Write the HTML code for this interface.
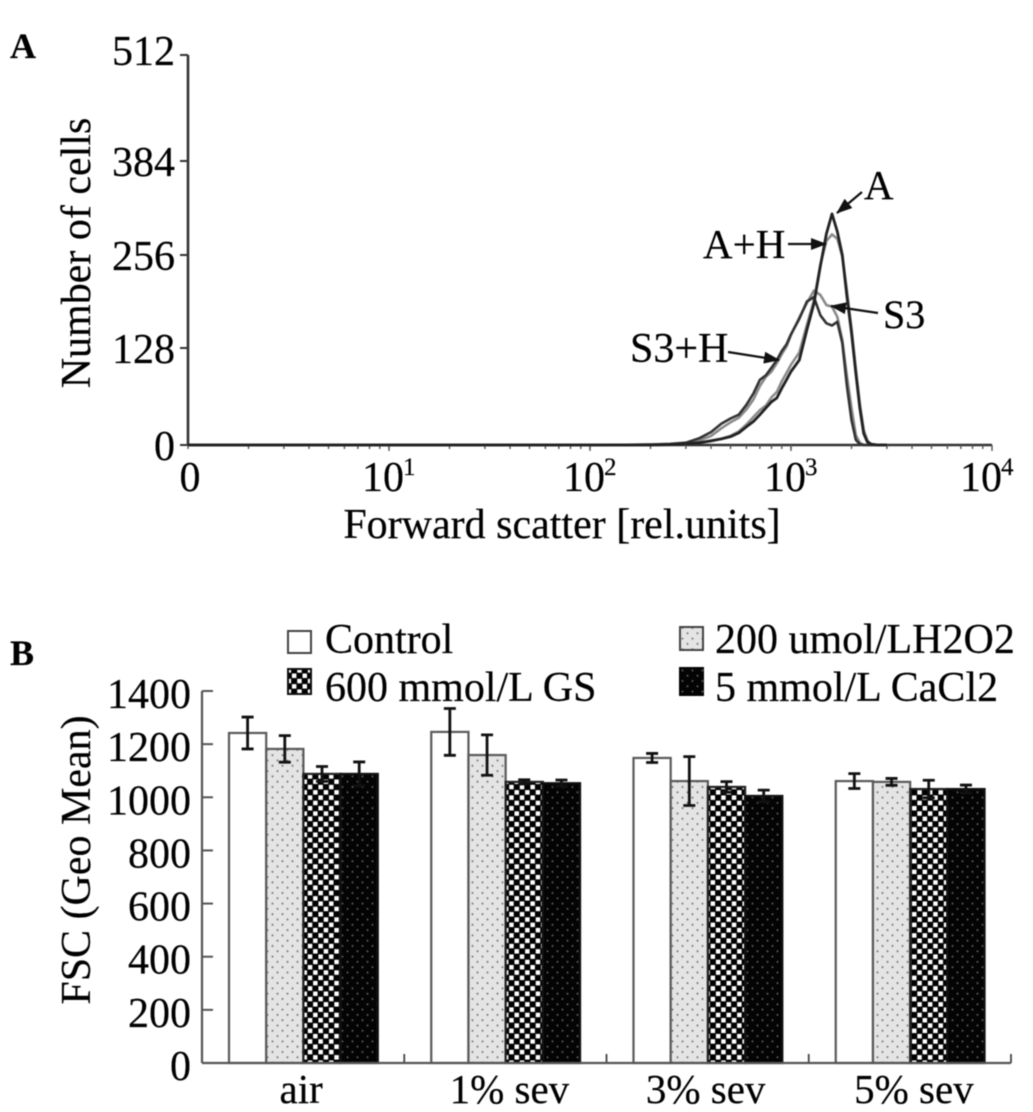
<!DOCTYPE html>
<html lang="en">
<head>
<meta charset="utf-8">
<title>Forward scatter histogram and FSC bar chart</title>
<style>
  html, body { margin: 0; padding: 0; background: #fff; }
  svg { display: block; filter: blur(0.4px); }
  text { font-family: "Liberation Serif", "Times New Roman", serif; fill: #000; stroke: #000; stroke-width: 0.2px; }
</style>
</head>
<body>
<svg id="figure" xmlns="http://www.w3.org/2000/svg" width="1033" height="1112" viewBox="0 0 1033 1112">
  <defs>
    <pattern id="dots-light" patternUnits="userSpaceOnUse" width="10" height="10.6">
      <rect width="10" height="10.6" fill="#e4e4e4"/>
      <circle cx="2.5" cy="2.6" r="1" fill="#777"/>
      <circle cx="7.5" cy="7.9" r="1" fill="#777"/>
    </pattern>
    <pattern id="checker" patternUnits="userSpaceOnUse" width="10.6" height="10.6">
      <rect width="10.6" height="10.6" fill="#000"/>
      <rect x="0.4" y="0.4" width="4.5" height="4.5" fill="#fff"/>
      <rect x="5.7" y="5.7" width="4.5" height="4.5" fill="#fff"/>
    </pattern>
    <pattern id="dots-dark" patternUnits="userSpaceOnUse" width="10" height="10.6">
      <rect width="10" height="10.6" fill="#040404"/>
      <circle cx="2.5" cy="2.6" r="1" fill="#5c5c5c"/>
      <circle cx="7.5" cy="7.9" r="1" fill="#5c5c5c"/>
    </pattern>
    <marker id="arrowhead" markerUnits="userSpaceOnUse" markerWidth="16" markerHeight="12" refX="15" refY="6" orient="auto">
      <path d="M0,0 L16,6 L0,12 Z" fill="#111"/>
    </marker>
  </defs>

  <text x="10" y="58" font-size="36" font-weight="bold">A</text>
  <text x="10" y="665" font-size="36" font-weight="bold">B</text>

  <g id="panel-a"></g>
  <text transform="translate(90,253) rotate(-90)" text-anchor="middle" font-size="42">Number of cells</text>
  <text x="562" y="538" text-anchor="middle" font-size="42">Forward scatter [rel.units]</text>

  <line x1="862" y1="192" x2="837" y2="213" stroke="#111" stroke-width="2.2" marker-end="url(#arrowhead)"/>
  <line x1="788" y1="244" x2="826" y2="244" stroke="#111" stroke-width="2.2" marker-end="url(#arrowhead)"/>
  <line x1="878" y1="313" x2="831" y2="306" stroke="#111" stroke-width="2.2" marker-end="url(#arrowhead)"/>
  <line x1="728" y1="352" x2="779" y2="360" stroke="#111" stroke-width="2.2" marker-end="url(#arrowhead)"/>
  <text x="864" y="199" font-size="41">A</text>
  <text x="703" y="258" font-size="41">A+H</text>
  <text x="883" y="328" font-size="40">S3</text>
  <text x="630" y="362" font-size="42">S3+H</text>

  <g id="panel-b"></g>
  <text transform="translate(90,860) rotate(-90)" text-anchor="middle" font-size="42">FSC (Geo Mean)</text>

  <g>
    <rect x="288" y="631" width="23" height="22" fill="#fff" stroke="#444" stroke-width="2"/>
    <text x="325" y="653" font-size="42">Control</text>
    <rect x="288" y="669" width="23" height="25" fill="url(#checker)" stroke="#111" stroke-width="2"/>
    <text x="325" y="701" font-size="42">600 mmol/L GS</text>
    <rect x="680" y="627" width="23" height="23" fill="url(#dots-light)" stroke="#444" stroke-width="2"/>
    <text x="715" y="653" font-size="42">200 umol/LH2O2</text>
    <rect x="679" y="667" width="25" height="29" fill="url(#dots-dark)"/>
    <text x="715" y="701" font-size="42">5 mmol/L CaCl2</text>
  </g>
</svg>

<script>
// Panel A data
const fscValues = [1,10,100,150,200,250,300,350,400,450,500,550,600,650,700,750,800,850,900,950,1000,1100,1200,1300,1400,1500,1600,1700,1800,1900,2000,2100,2200,2300,2400,2500,2700,3000];
const countsA = [0,0,0,0,0,0.5,1.5,3,5.5,8,11,16,24,31,40,49,57,62,75,86,97,112,153,189,241,285,312,288,256,198,149,95,49,15,4,1,0,0];
const countsAH = [0,0,0,0,0,0.5,1.5,3,5,8,12,18,27,37,46,52,63,70,84,95,106,122,160,193,243,275,284,278,254,206,155,101,55,20,6,1,0,0];
const countsS3 = [0,0,0,0,0.5,1,2.5,6,12,22,30,36,47,60,78,90,97,108,120,130,146,170,190,207,201,187,185,171,139,90,49,13,3,0,0,0,0,0];
const countsS3H = [0,0,0,0.3,0.7,1.5,3,9,17,28,35,40,53,68,86,92,102,112,124,133,147,168,192,198,173,162,159,164,135,77,33,7,1,0,0,0,0,0];
const countTicks = [0,128,256,384,512];
const decadeTicks = [1,10,100,1000,10000];
const decadeLabels = ["0","10","10","10","10"];
const decadeExponents = ["","1","2","3","4"];

// Panel B data
const categories = ["air","1% sev","3% sev","5% sev"];
const controlValues = [1242,1246,1148,1061];
const h2o2Values = [1182,1159,1061,1058];
const gsValues = [1088,1058,1039,1031];
const cacl2Values = [1088,1053,1005,1031];
const controlErrors = [60,88,17,28];
const h2o2Errors = [50,76,92,13];
const gsErrors = [28,8,20,33];
const cacl2Errors = [45,12,22,15];
const fscTicks = [0,200,400,600,800,1000,1200,1400];

const NS = "http://www.w3.org/2000/svg";
function mk(parent, tag, attrs, text) {
  const el = document.createElementNS(NS, tag);
  for (const k in attrs) el.setAttribute(k, attrs[k]);
  if (text !== undefined) el.textContent = text;
  parent.appendChild(el);
  return el;
}

// Panel A axes
const xA = v => 188 + 201 * Math.log10(v);
const yKnotsPx = [445,348,255,161,55];
function yA(c) {
  const step = 128;
  const i = Math.min(Math.max(Math.floor(c / step), 0), 3);
  return yKnotsPx[i] + (yKnotsPx[i + 1] - yKnotsPx[i]) * (c - i * step) / step;
}
const panelA = document.getElementById("panel-a");

const axisStroke = "#333";
const yAxisA = mk(panelA, "line", {x1:xA(1), y1:yA(512), x2:xA(1), y2:yA(0), stroke:axisStroke, "stroke-width":2.6});


const xAxisA = mk(panelA, "line", {x1:xA(1), y1:yA(0), x2:xA(10000), y2:yA(0), stroke:axisStroke, "stroke-width":2.6});



countTicks.forEach((c, i) => {
  const t = mk(panelA, "line", {x1:180, y1:yA(c), x2:xA(1), y2:yA(c), stroke:axisStroke, "stroke-width":2});
  
  
  const lab = mk(panelA, "text", {x:175, y:yA(c) + (c === 512 ? 10 : 15), "text-anchor":"end", "font-size":42}, String(c));
  
  
});

for (let d = 0; d < 4; d++) {
  for (let m = 1; m <= 10; m++) {
    const v = m * Math.pow(10, d);
    const t = mk(panelA, "line", {x1:xA(v), y1:yA(0), x2:xA(v), y2:yA(0) + (m === 10 ? 6 : 4), stroke:"#555", "stroke-width":1.4});
    
    
  }
}

decadeTicks.forEach((v, i) => {
  const px = xA(v);
  const edgeShift = i === 4 ? -5 : 0;
  const lab = mk(panelA, "text", {x: i === 0 ? px + 2 : px - 27 + edgeShift, y:491, "text-anchor": i === 0 ? "middle" : "start", "font-size":42}, decadeLabels[i]);
  
  
  if (decadeExponents[i]) {
    const sup = mk(panelA, "text", {x:px + 14 + edgeShift, y:475, "font-size":25}, decadeExponents[i]);
    
    
  }
});

function curvePoints(counts) {
  return fscValues.map((v, i) => xA(v).toFixed(1) + "," + yA(counts[i]).toFixed(1)).join(" ");
}
const curveAH = mk(panelA, "polyline", {points:curvePoints(countsAH), fill:"none", stroke:"#8c8c8c", "stroke-width":2.6, "stroke-linejoin":"round"});


const curveS3 = mk(panelA, "polyline", {points:curvePoints(countsS3), fill:"none", stroke:"#8a8a8a", "stroke-width":2.6, "stroke-linejoin":"round"});


const curveS3H = mk(panelA, "polyline", {points:curvePoints(countsS3H), fill:"none", stroke:"#333", "stroke-width":2.6, "stroke-linejoin":"round"});


const curveA = mk(panelA, "polyline", {points:curvePoints(countsA), fill:"none", stroke:"#222", "stroke-width":2.8, "stroke-linejoin":"round"});



// Panel B axes
const y0B = 1063, pxPerUnitB = 372 / 1400;
const yB = v => y0B - v * pxPerUnitB;
const x0B = 202, bandB = 202.25, barOffset = 27, barW = 37.2;
const xB = (g, s) => x0B + g * bandB + barOffset + s * barW;
const panelB = document.getElementById("panel-b");

const seriesValues = [controlValues, h2o2Values, gsValues, cacl2Values];
const seriesErrors = [controlErrors, h2o2Errors, gsErrors, cacl2Errors];
const seriesFills = ["#fff", "url(#dots-light)", "url(#checker)", "url(#dots-dark)"];
const seriesStrokes = ["#5a5a5a", "#5a5a5a", "#222", "#111"];
const seriesKeys = ["control", "h2o2", "gs", "cacl2"];

categories.forEach((cat, g) => {
  seriesValues.forEach((vals, s) => {
    const bar = mk(panelB, "rect", {x:xB(g, s), y:yB(vals[g]), width:barW, height:y0B - yB(vals[g]), fill:seriesFills[s], stroke:seriesStrokes[s], "stroke-width":2.2});
    
    
  });
  seriesValues.forEach((vals, s) => {
    const cx = xB(g, s) + barW / 2;
    const hi = yB(vals[g] + seriesErrors[s][g]);
    const lo = yB(vals[g] - seriesErrors[s][g]);
    const err = mk(panelB, "path", {d:`M${cx},${hi} V${lo} M${cx - 6},${hi} H${cx + 6} M${cx - 6},${lo} H${cx + 6}`, fill:"none", stroke:"#111", "stroke-width":2.8});
    
    
  });
  const labelShift = [-2, 4, -2, 4][g];
  const lab = mk(panelB, "text", {x:x0B + (g + 0.5) * bandB + labelShift, y:1103, "text-anchor":"middle", "font-size":41}, cat);
  
  
  const t = mk(panelB, "line", {x1:x0B + (g + 1) * bandB, y1:y0B - 9, x2:x0B + (g + 1) * bandB, y2:y0B, stroke:"#444", "stroke-width":1.8});
  
  
});

const yAxisB = mk(panelB, "line", {x1:x0B, y1:yB(1400), x2:x0B, y2:y0B, stroke:"#555", "stroke-width":2.2});


const xAxisB = mk(panelB, "line", {x1:x0B, y1:y0B, x2:x0B + 4 * bandB, y2:y0B, stroke:"#555", "stroke-width":2.2});



fscTicks.forEach(v => {
  const t = mk(panelB, "line", {x1:x0B, y1:yB(v), x2:x0B + 11, y2:yB(v), stroke:"#555", "stroke-width":2});
  
  
  const lab = mk(panelB, "text", {x:191, y:yB(v) + 17, "text-anchor":"end", "font-size":42}, String(v));
  
  
});
</script>
</body>
</html>
